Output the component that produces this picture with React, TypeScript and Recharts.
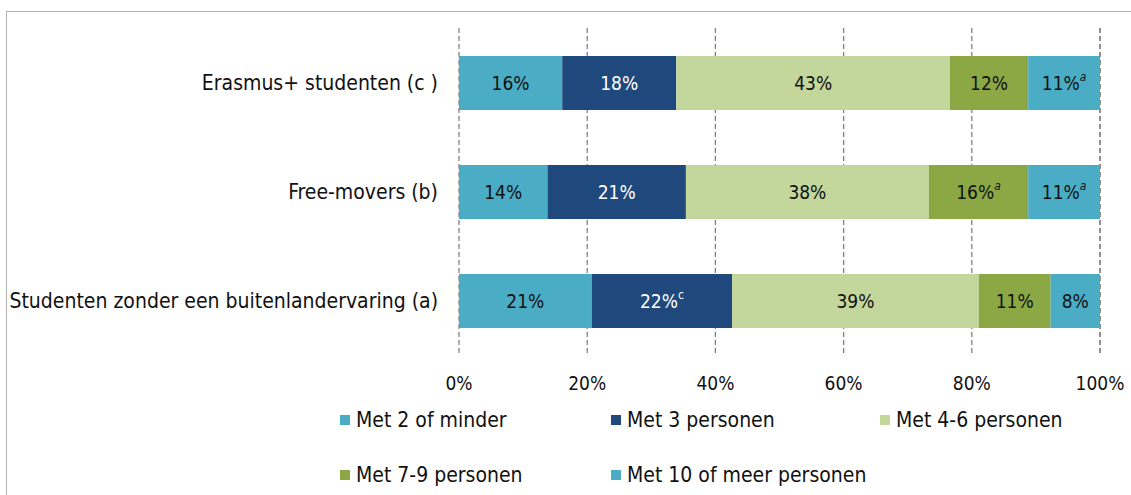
import React from "react";
import { Bar, BarChart, CartesianGrid, LabelList, XAxis, YAxis } from "recharts";

// #region Data
const categories = [
  "Erasmus+ studenten (c )",
  "Free-movers (b)",
  "Studenten zonder een buitenlandervaring (a)",
];

// segment widths (percent)
const met2 = [16.1, 13.8, 20.7];
const met3 = [17.8, 21.6, 21.9];
const met46 = [42.7, 37.9, 38.5];
const met79 = [12.2, 15.5, 11.2];
const met10 = [11.2, 11.2, 7.7];

// printed labels and their superscript notes
const met2Labels = ["16%", "14%", "21%"];
const met3Labels = ["18%", "21%", "22%"];
const met46Labels = ["43%", "38%", "39%"];
const met79Labels = ["12%", "16%", "11%"];
const met10Labels = ["11%", "11%", "8%"];

const met3Notes = ["", "", "c"];
const met79Notes = ["", "a", ""];
const met10Notes = ["a", "a", ""];
const noNotes = ["", "", ""];

const xTicks = [0, 20, 40, 60, 80, 100];
// #endregion

const FONT = "'DejaVu Sans Condensed', 'DejaVu Sans', sans-serif";

const LIGHT_BLUE = "#4BACC6";
const DARK_BLUE = "#1F497D";
const LIGHT_GREEN = "#C3D69B";
const GREEN = "#8CA844";

const data = categories.map((name, i) => ({
  name,
  met2: met2[i],
  met3: met3[i],
  met46: met46[i],
  met79: met79[i],
  met10: met10[i],
}));

const makeLabel =
  (labels: string[], notes: string[], color: string) => (props: any) => {
    const { x, y, width, height, index } = props;
    const cx = Number(x) + Number(width) / 2;
    const cy = Number(y) + Number(height) / 2;
    const note = notes[index];
    return (
      <text
        x={cx}
        y={cy}
        fill={color}
        textAnchor="middle"
        dominantBaseline="central"
        fontSize={19}
        fontFamily={FONT}
      >
        {labels[index]}
        {note ? (
          <tspan
            fontSize={12}
            dy={-6}
            fontStyle={note === "a" ? "italic" : "normal"}
          >
            {note}
          </tspan>
        ) : null}
      </text>
    );
  };

const legendItems = [
  { name: "Met 2 of minder", color: LIGHT_BLUE, left: 340, top: 407 },
  { name: "Met 3 personen", color: DARK_BLUE, left: 611, top: 407 },
  { name: "Met 4-6 personen", color: LIGHT_GREEN, left: 880, top: 407 },
  { name: "Met 7-9 personen", color: GREEN, left: 340, top: 462 },
  { name: "Met 10 of meer personen", color: LIGHT_BLUE, left: 611, top: 462 },
];

export default function App() {
  return (
    <div
      style={{
        position: "absolute",
        left: 0,
        top: 0,
        width: 1131,
        height: 495,
        background: "#fff",
        overflow: "hidden",
      }}
    >
      <div
        style={{
          position: "absolute",
          left: 6,
          top: 11,
          width: 1200,
          height: 600,
          borderTop: "1px solid #b0b0b0",
          borderLeft: "1px solid #b0b0b0",
        }}
      />
      <div style={{ position: "absolute", left: 0, top: 0 }}>
        <BarChart
          width={1131}
          height={400}
          data={data}
          layout="vertical"
          margin={{ top: 28, right: 31, bottom: 5, left: 0 }}
          barSize={54}
        >
          <CartesianGrid
            horizontal={false}
            stroke="#808080"
            strokeDasharray="5 3"
            strokeWidth={1.3}
          />
          <XAxis
            type="number"
            domain={[0, 100]}
            ticks={xTicks}
            tickFormatter={(v) => `${v}%`}
            axisLine={false}
            tickLine={false}
            height={40}
            tickMargin={16}
            tick={{ fill: "#111", fontSize: 19, fontFamily: FONT }}
          />
          <YAxis
            type="category"
            dataKey="name"
            width={459}
            axisLine={false}
            tickLine={false}
            tickMargin={15}
            tick={{ fill: "#111", fontSize: 21, fontFamily: FONT }}
          />
          <Bar dataKey="met2" stackId="a" fill={LIGHT_BLUE} barSize={54} isAnimationActive={false}>
            <LabelList content={makeLabel(met2Labels, noNotes, "#111")} />
          </Bar>
          <Bar dataKey="met3" stackId="a" fill={DARK_BLUE} barSize={54} isAnimationActive={false}>
            <LabelList content={makeLabel(met3Labels, met3Notes, "#fff")} />
          </Bar>
          <Bar dataKey="met46" stackId="a" fill={LIGHT_GREEN} barSize={54} isAnimationActive={false}>
            <LabelList content={makeLabel(met46Labels, noNotes, "#111")} />
          </Bar>
          <Bar dataKey="met79" stackId="a" fill={GREEN} barSize={54} isAnimationActive={false}>
            <LabelList content={makeLabel(met79Labels, met79Notes, "#111")} />
          </Bar>
          <Bar dataKey="met10" stackId="a" fill={LIGHT_BLUE} barSize={54} isAnimationActive={false}>
            <LabelList content={makeLabel(met10Labels, met10Notes, "#111")} />
          </Bar>
        </BarChart>
      </div>
      {legendItems.map((it) => (
        <div
          key={it.name}
          style={{
            position: "absolute",
            left: it.left,
            top: it.top,
            display: "flex",
            alignItems: "center",
            fontFamily: FONT,
            fontSize: 21,
            lineHeight: "26px",
            color: "#111",
            whiteSpace: "nowrap",
          }}
        >
          <span
            style={{
              display: "inline-block",
              width: 10,
              height: 10,
              background: it.color,
              marginRight: 6,
            }}
          />
          {it.name}
        </div>
      ))}
    </div>
  );
}
